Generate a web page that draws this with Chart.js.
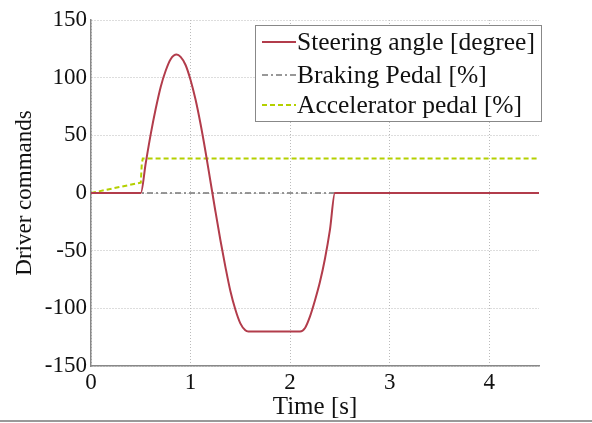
<!DOCTYPE html>
<html><head><meta charset="utf-8">
<script src="https://cdn.jsdelivr.net/npm/chart.js@4/dist/chart.umd.min.js"></script>
<style>html,body{margin:0;padding:0;background:#fff}#wrap{width:592px;height:423px;position:relative}</style>
</head><body><div id="wrap"><canvas id="c" width="592" height="423"></canvas></div>
<script>
const steeringTime = [0,0.5,0.55,0.6,0.65,0.7,0.75,0.8,0.86,0.9,0.95,1.0,1.05,1.1,1.15,1.2,1.25,1.3,1.35,1.4,1.45,1.5,1.55,1.58,2.1,2.15,2.2,2.25,2.3,2.35,2.4,2.45,4.5];
const steeringAngle = [0,0,26,51,73,92,106,116,120,118,111,98,81,60,36,10,-16,-41,-64,-85,-101,-113,-119,-120,-120,-117,-107,-93,-77,-57,-32,0,0];
const brakingTime = [0,4.5];
const brakingPedal = [0,0];
const accelTime = [0,0.5,0.51,0.52,4.5];
const accelPedal = [0,9,25,30,30];
const seriesLabels = ['Steering angle [degree]','Braking Pedal [%]','Accelerator pedal [%]'];
const xTicks = [0,1,2,3,4];
const yTicks = [-150,-100,-50,0,50,100,150];

const pts = (xs, ys) => xs.map((x,i)=>({x, y: ys[i]}));
const FONT = "'Liberation Serif', 'Times New Roman', serif";

const legendBox = {
  id: 'legendBox',
  afterDraw(chart) {
    const ctx = chart.ctx;
    const x0 = 255, y0 = 25, w = 286, h = 96;
    ctx.save();
    ctx.fillStyle = '#fff';
    ctx.fillRect(x0, y0, w, h);
    ctx.strokeStyle = '#888';
    ctx.lineWidth = 1;
    ctx.strokeRect(x0 + 0.5, y0 + 0.5, w, h);
    const rows = [42, 75, 105];
    chart.data.datasets.forEach((ds, i) => {
      const y = rows[i];
      ctx.beginPath();
      ctx.setLineDash(ds.borderDash || []);
      ctx.strokeStyle = ds.borderColor;
      ctx.lineWidth = ds.borderWidth;
      ctx.moveTo(262, y);
      ctx.lineTo(296, y);
      ctx.stroke();
      ctx.setLineDash([]);
      ctx.fillStyle = '#111';
      ctx.font = '25.5px ' + FONT;
      ctx.textBaseline = 'middle';
      ctx.textAlign = 'left';
      ctx.fillText(ds.label, 297, y + 1);
    });
    ctx.strokeStyle = '#999';
    ctx.lineWidth = 2;
    ctx.beginPath();
    ctx.moveTo(0, 421);
    ctx.lineTo(592, 421);
    ctx.stroke();
    ctx.restore();
  }
};

new Chart(document.getElementById('c'), {
  type: 'line',
  data: {
    datasets: [
      {label: seriesLabels[0], data: pts(steeringTime, steeringAngle), borderColor: '#b23c4b', borderWidth: 2, pointRadius: 0, cubicInterpolationMode: 'monotone', fill: false},
      {label: seriesLabels[1], data: pts(brakingTime, brakingPedal), borderColor: '#777777', borderWidth: 1.5, borderDash: [6,3,2,3], pointRadius: 0, tension: 0, fill: false},
      {label: seriesLabels[2], data: pts(accelTime, accelPedal), borderColor: '#b4d000', borderWidth: 2, borderDash: [5,3], pointRadius: 0, tension: 0, fill: false}
    ]
  },
  options: {
    responsive: false,
    animation: false,
    layout: {padding: {top: 20, right: 53, left: 0, bottom: 0}},
    plugins: {legend: {display: false}, tooltip: {enabled: false}},
    scales: {
      x: {
        type: 'linear', min: 0, max: 4.5,
        afterBuildTicks: s => { s.ticks = xTicks.map(v => ({value: v})); },
        afterFit: s => { s.height = 57; },
        grid: {color: '#bbbbbb', drawTicks: false, lineWidth: 1},
        border: {display: true, color: '#888', width: 1.5, dash: [1,2]},
        ticks: {color: '#111', font: {family: FONT, size: 23}, padding: 3, maxRotation: 0},
        title: {display: true, text: 'Time [s]', color: '#111', font: {family: FONT, size: 25}, padding: {top: 0, bottom: 1}}
      },
      y: {
        type: 'linear', min: -150, max: 150,
        afterBuildTicks: s => { s.ticks = yTicks.map(v => ({value: v})); },
        afterFit: s => { s.width = 91; },
        grid: {color: '#bbbbbb', drawTicks: false, lineWidth: 1},
        border: {display: true, color: '#888', width: 1.5, dash: [1,2]},
        ticks: {color: '#111', font: {family: FONT, size: 23}, padding: 4},
        title: {display: true, text: 'Driver commands', color: '#111', font: {family: FONT, size: 23}, padding: {top: 11, bottom: 0}}
      }
    }
  },
  plugins: [legendBox]
});
</script></body></html>
